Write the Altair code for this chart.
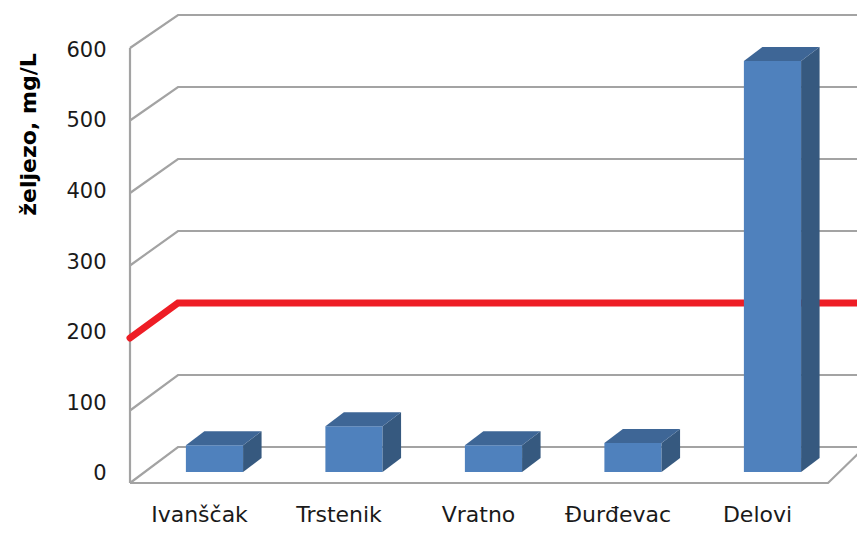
import json
import altair as alt
import pandas as pd

# ---------------- data ----------------
categories = ["Ivanščak", "Trstenik", "Vratno", "Đurđevac", "Delovi"]
values = [37, 63, 37, 40, 567]
limit_value = 200
y_ticks = [0, 100, 200, 300, 400, 500, 600]
y_label = "željezo, mg/L"

# ---------------- 3D geometry (data units) ----------------
XL = -0.4946    # front-left corner of the box
XFR = 4.509     # front-right corner of the floor
XBL = -0.1505   # back-left corner
XBR = 4.774     # back-right corner
KB = 0.9931     # back wall value scale factor
DYB = 49.66     # back wall vertical shift (value units)
BAR_SHIFT = 0.111
BAR_BASE = 15.2
BAR_W = 0.41
BAR_DX = 0.1326
BAR_DY = 19.3

X_DOMAIN = [-0.5233, 4.7168]
Y_DOMAIN = [-17.93, 655.17]        # graphics (front plane)
YL_DOMAIN = [-31.91, 660.28]       # axis labels


def back(v):
    return v * KB + DYB


# frame / grid lines
line_rows = []
for t in y_ticks:
    pts = [(XL, t), (XBL, back(t)), (XBR, back(t))]
    for s, (x, y) in enumerate(pts):
        line_rows.append({"id": f"g{t}", "seq": s, "x": x, "y": y})
for s, (x, y) in enumerate([(XL, 0), (XL, y_ticks[-1])]):
    line_rows.append({"id": "front", "seq": s, "x": x, "y": y})
for s, (x, y) in enumerate([(XL, 0), (XFR, 0), (XBR, back(0))]):
    line_rows.append({"id": "floor", "seq": s, "x": x, "y": y})
lines_df = pd.DataFrame(line_rows)

red_rows = []
for s, (x, y) in enumerate([(XL, limit_value), (XBL, back(limit_value)), (XBR, back(limit_value))]):
    red_rows.append({"seq": s, "x": x, "y": y})
red_df = pd.DataFrame(red_rows)

front_rows, side_rows, top_rows = [], [], []
for i, (c, v) in enumerate(zip(categories, values)):
    xl = i + BAR_SHIFT - BAR_W / 2
    xr = xl + BAR_W
    b = BAR_BASE
    front_rows.append({"cat": c, "x": xl, "x2": xr, "y": b, "y2": b + v})
    side_rows.append({"cat": c, "x": xr, "y": b, "y2": b + v})
    side_rows.append({"cat": c, "x": xr + BAR_DX, "y": b + BAR_DY, "y2": b + v + BAR_DY})
    top_rows.append({"cat": c, "y": b + v, "x": xl, "x2": xr})
    top_rows.append({"cat": c, "y": b + v + BAR_DY, "x": xl + BAR_DX, "x2": xr + BAR_DX})
front_df = pd.DataFrame(front_rows)
side_df = pd.DataFrame(side_rows)
top_df = pd.DataFrame(top_rows)

xs = alt.Scale(domain=X_DOMAIN, nice=False, zero=False)
ys = alt.Scale(domain=Y_DOMAIN, nice=False, zero=False)

label_expr = json.dumps(categories, ensure_ascii=False) + "[datum.value]"
x_axis = alt.Axis(
    values=list(range(len(categories))), labelExpr=label_expr, title=None,
    domain=False, ticks=False, tickSize=0, grid=False, labelFlush=False,
    labelOverlap=False, labelBaseline="alphabetic", labelPadding=25,
    labelFont="DejaVu Sans", labelFontSize=22, labelColor="#1a1a1a")


def X(field="x:Q"):
    return alt.X(field, scale=xs, axis=x_axis)


def Y(field="y:Q"):
    return alt.Y(field, scale=ys, axis=None)


grid = alt.Chart(lines_df).mark_line(color="#a3a3a3", strokeWidth=2.2, clip=True).encode(
    x=X(), y=Y(), detail="id:N", order="seq:Q",
)

red = alt.Chart(red_df).mark_line(color="#ee1d25", strokeWidth=7, strokeCap="round",
                                  strokeJoin="miter", clip=True).encode(
    x=X(), y=Y(), order="seq:Q",
)

front = alt.Chart(front_df).mark_rect(color="#4f81bd").encode(
    x=X(), x2="x2:Q", y=Y(), y2="y2:Q",
)

side = alt.Chart(side_df).mark_area(color="#36597f", orient="vertical").encode(
    x=X(), y=Y(), y2="y2:Q", detail="cat:N",
)

top = alt.Chart(top_df).mark_area(color="#3e6696", orient="horizontal").encode(
    y=Y(), x=X(), x2="x2:Q", detail="cat:N",
)

graphics = alt.layer(grid, red, front, side, top)

label_layer = alt.Chart(pd.DataFrame({"t": y_ticks})).mark_point(opacity=0).encode(
    y=alt.Y("t:Q", scale=alt.Scale(domain=YL_DOMAIN, nice=False, zero=False),
            axis=alt.Axis(values=y_ticks, title=y_label, domain=False, ticks=False,
                          tickSize=0, grid=False, labelPadding=20, labelFlush=False,
                          labelFont="DejaVu Sans", labelFontSize=21, labelColor="#1a1a1a",
                          titleFont="DejaVu Sans", titleFontSize=22, titleFontWeight="bold",
                          titleColor="#000000", titleAngle=270, titleX=-98, titleY=126,
                          titleAlign="center", titleBaseline="middle")),
)

chart = alt.layer(label_layer, graphics).resolve_scale(y="independent").properties(
    width=731, height=488,
    autosize=alt.AutoSizeParams(type="none"),
    padding={"left": 118, "top": 0, "right": 0, "bottom": 30},
    background="white",
).configure_view(stroke=None)

chart.save("out.html", embed_options={"renderer": "svg", "actions": False})
